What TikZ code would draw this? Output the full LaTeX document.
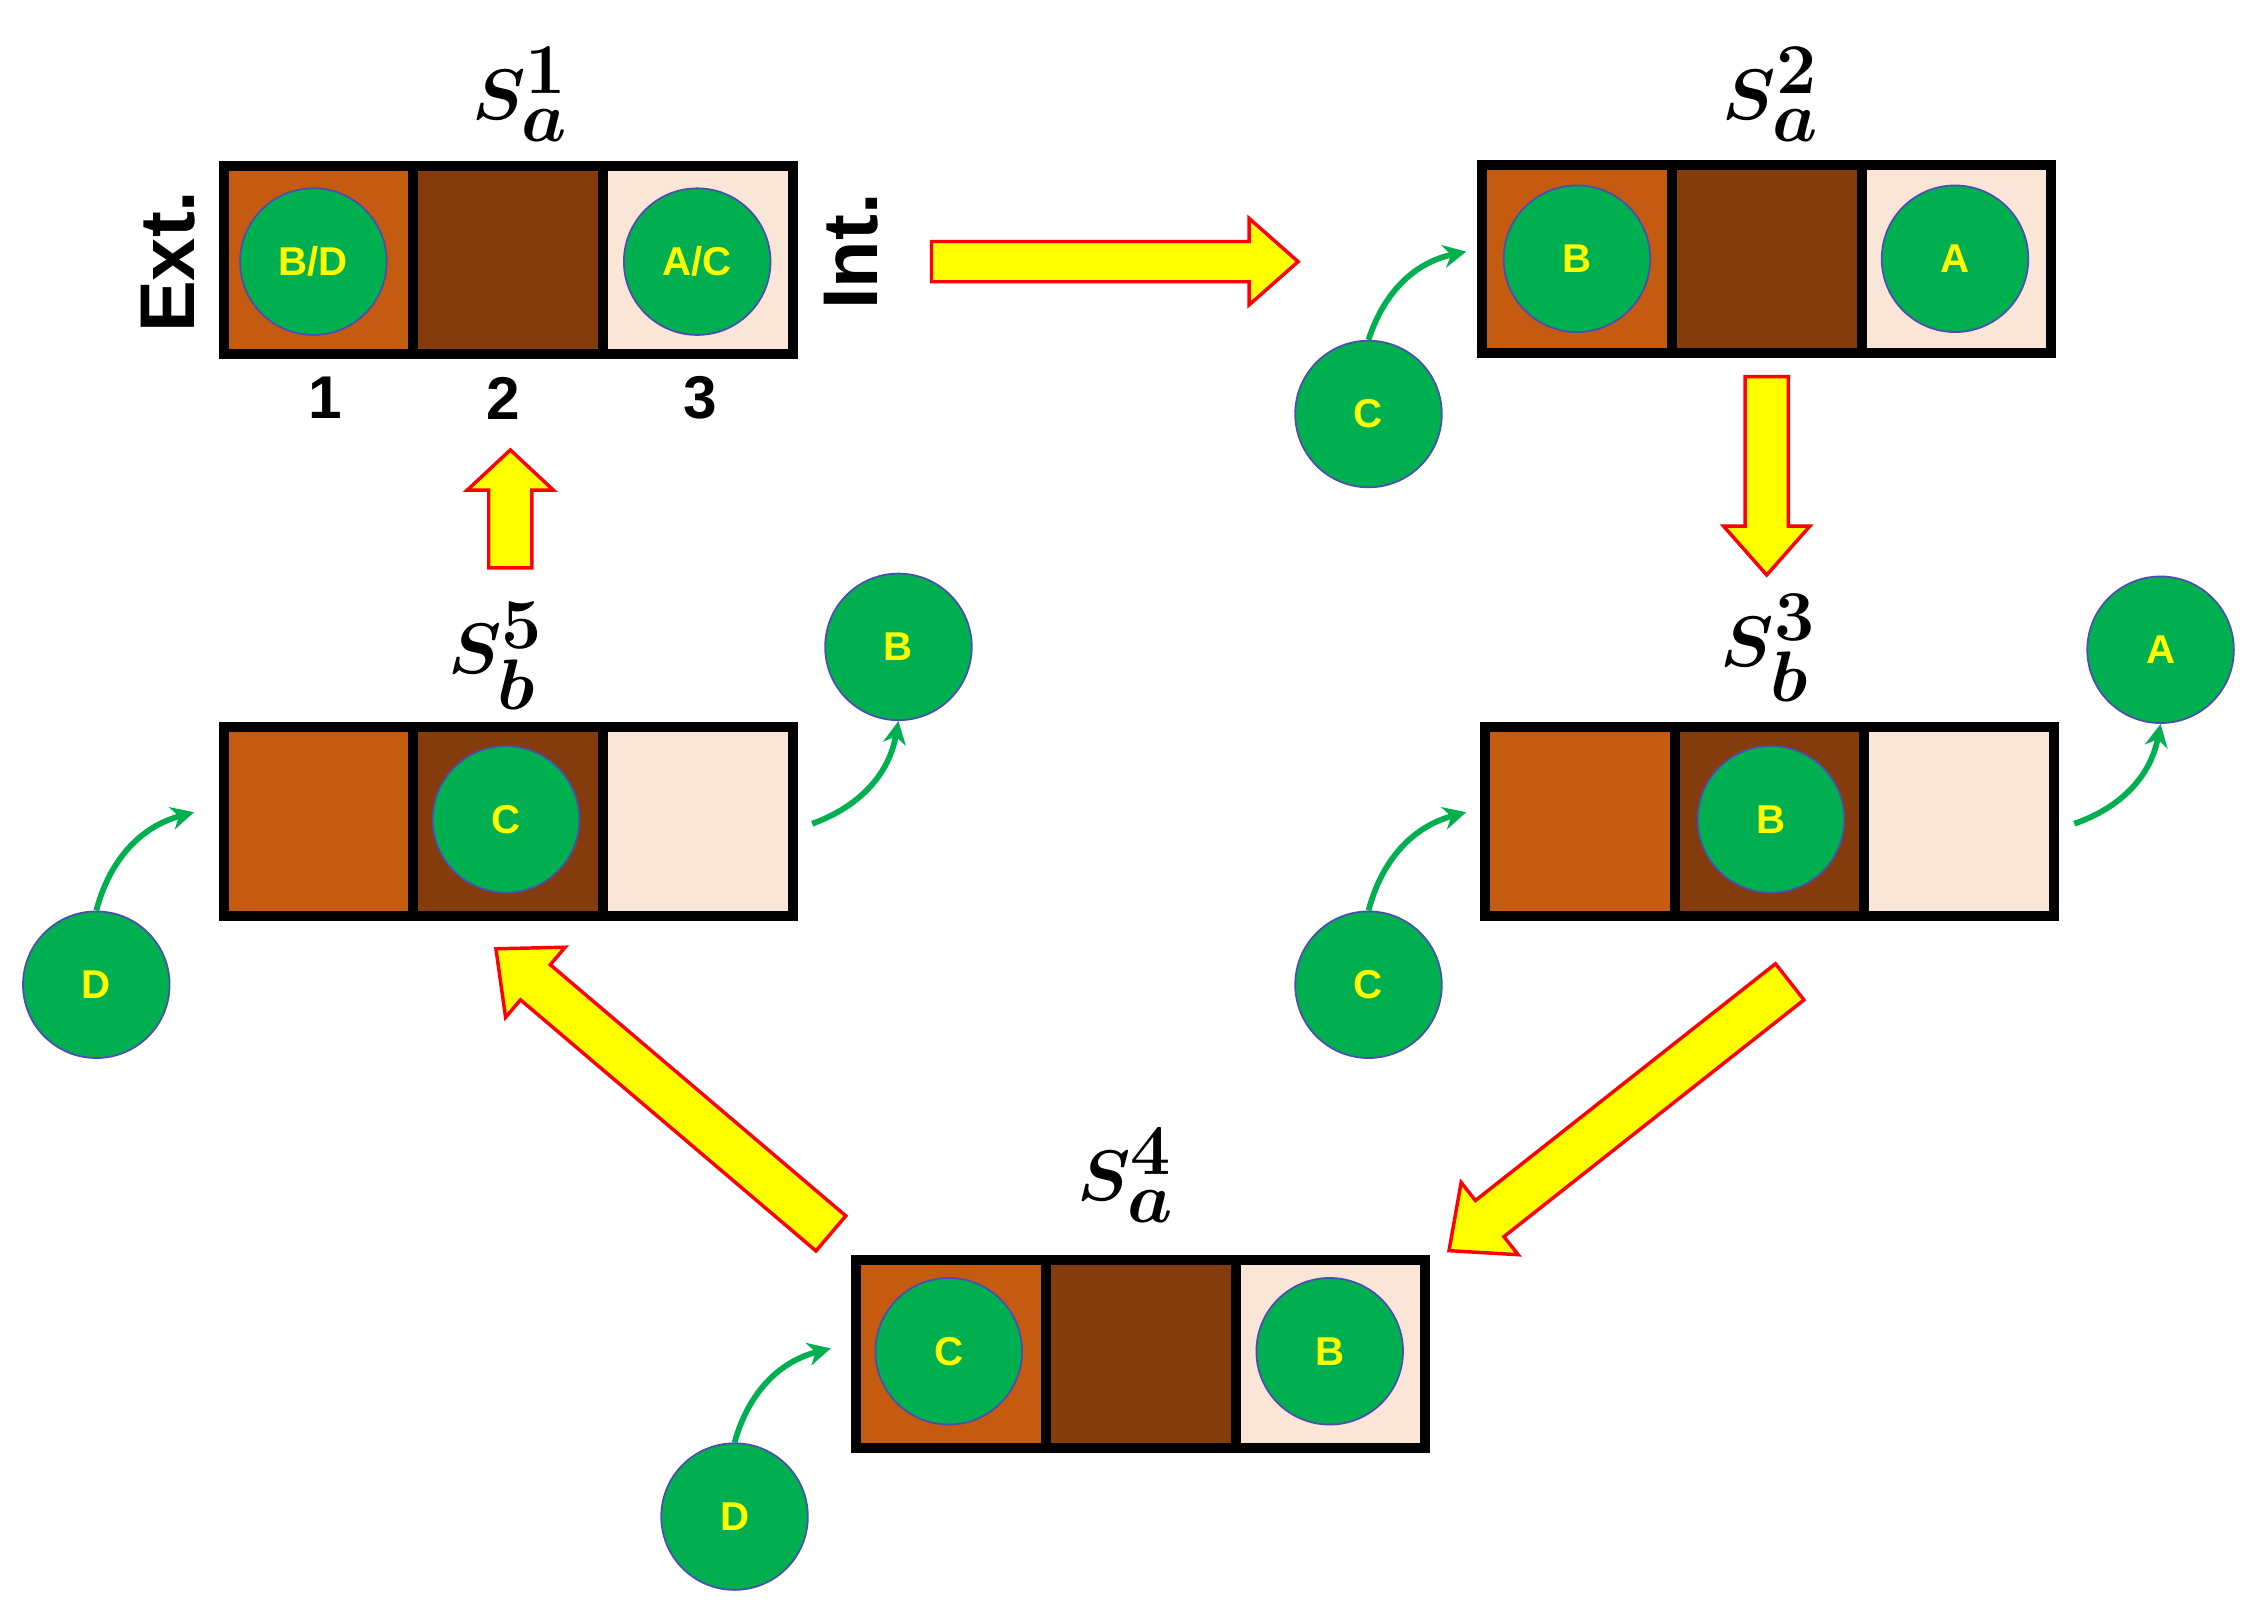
\documentclass[tikz,border=0pt]{standalone}
\usepackage{fontspec}
\setmainfont{Liberation Sans}
\usepackage{amsmath,bm}
\usetikzlibrary{calc,arrows.meta}
\definecolor{c1}{HTML}{C55A11}
\definecolor{c2}{HTML}{843C0C}
\definecolor{c3}{HTML}{FBE5D6}
\definecolor{gr}{HTML}{00B050}
\definecolor{ye}{HTML}{FFFF00}
\definecolor{rd}{HTML}{FF0000}
\tikzset{
  ion/.style={circle,fill=gr,draw=gray!60!blue,line width=0.6pt,minimum size=51pt,inner sep=0pt,text=ye,font=\bfseries\fontsize{14}{14}\selectfont},
  cell/.style={rectangle,inner sep=0pt,minimum width=62.5pt,minimum height=62pt},
  frame/.style={rectangle,fill=black,inner sep=0pt,minimum width=201.5pt,minimum height=69pt},
  mv/.style={-{Stealth[length=8pt,width=8pt]},draw=gr,line width=2pt},
  fat/.style={fill=ye,draw=rd,line width=1.2pt,line join=miter},
  lab/.style={font=\boldmath\fontsize{36}{36}\selectfont},
}
% #1 name, #2 x center, #3 y center
\newcommand\mystator[3]{%
  \node[frame] (#1) at (#2,#3) {};
  \node[cell,fill=c1] (#1c1) at ($(#2,#3)+(-132,0)$) {};
  \node[cell,fill=c2] (#1c2) at ($(#2,#3)+(0,0)$) {};
  \node[cell,fill=c3] (#1c3) at ($(#2,#3)+(132,0)$) {};
}
% #1 start, #2 end, #3 shaft half, #4 head half, #5 head length
\newcommand\fatarrow[5]{%
  \coordinate (fH) at ($(#2)!#5!(#1)$);
  \draw[fat] ($(#1)!#3!90:(#2)$) -- ($(fH)!#3!90:(#2)$) -- ($(fH)!#4!90:(#2)$) -- (#2)
    -- ($(fH)!#4!-90:(#2)$) -- ($(fH)!#3!-90:(#2)$) -- ($(#1)!#3!-90:(#2)$) -- cycle;
}
\begin{document}
\begin{tikzpicture}[x=0.5pt,y=-0.5pt]
\useasboundingbox (0,0) rectangle (1568,1120);
\fill[white] (0,0) rectangle (1568,1120);
\mystator{s1}{353.5}{181}
\mystator{s2}{1229}{180}
\mystator{s3}{1231}{571.5}
\mystator{s5}{353.5}{571.5}
\mystator{s4}{793.5}{942}
% labels
\node[lab] (l1) at (362,66) {$\bm{S_a^1}$};
\node[lab] (l2) at (1232,66) {$\bm{S_a^2}$};
\node[lab] (l3) at (1230,451) {$\bm{S_b^3}$};
\node[lab] (l5) at (345,456) {$\bm{S_b^5}$};
\node[lab] (l4) at (783,818) {$\bm{S_a^4}$};
\node[rotate=90,font=\bfseries\fontsize{27}{27}\selectfont] (ext) at (117,182) {Ext.};
\node[rotate=90,font=\bfseries\fontsize{27}{27}\selectfont] (int) at (592,175) {Int.};
\node[font=\bfseries\fontsize{21}{21}\selectfont] (n1) at (226,277) {1};
\node[font=\bfseries\fontsize{21}{21}\selectfont] (n2) at (350,277) {2};
\node[font=\bfseries\fontsize{21}{21}\selectfont] (n3) at (487,277) {3};
% ions
\node[ion] at (218,182) {B/D};
\node[ion] at (485,182) {A/C};
\node[ion] at (1097,180) {B};
\node[ion] at (1360,180) {A};
\node[ion] (c2) at (952,288) {C};
\node[ion] at (1232,570) {B};
\node[ion] (a3) at (1503,452) {A};
\node[ion] (c3) at (952,685) {C};
\node[ion] at (352,570) {C};
\node[ion] (b5) at (625,450) {B};
\node[ion] (d5) at (67,685) {D};
\node[ion] at (660,940) {C};
\node[ion] at (925,940) {B};
\node[ion] (d4) at (511,1055) {D};
% moves
\coordinate (t2) at (1020,175);
\draw[mv] (c2.north) to[bend left=30] (t2);
\coordinate (t3a) at (1020,565);
\draw[mv] (c3.north) to[bend left=30] (t3a);
\coordinate (f3) at (1443,573);
\draw[mv] (f3) to[bend right=30] (a3.south);
\coordinate (f5) at (565,573);
\draw[mv] (f5) to[bend right=30] (b5.south);
\coordinate (t5) at (135,565);
\draw[mv] (d5.north) to[bend left=30] (t5);
\coordinate (t4) at (578,938);
\draw[mv] (d4.north) to[bend left=30] (t4);
% big arrows
\coordinate (p12a) at (648,182); \coordinate (p12b) at (903,182);
\fatarrow{p12a}{p12b}{7pt}{15pt}{17pt}
\coordinate (p23a) at (1229,262); \coordinate (p23b) at (1229,400);
\fatarrow{p23a}{p23b}{7.5pt}{15pt}{17pt}
\coordinate (p34a) at (1245,683); \coordinate (p34b) at (1008,870);
\fatarrow{p34a}{p34b}{8pt}{16pt}{18pt}
\coordinate (p45a) at (578,858); \coordinate (p45b) at (345,660);
\fatarrow{p45a}{p45b}{8pt}{16pt}{18pt}
\coordinate (p51a) at (355,395); \coordinate (p51b) at (355,313);
\fatarrow{p51a}{p51b}{7.5pt}{15pt}{14pt}
\end{tikzpicture}
\end{document}
